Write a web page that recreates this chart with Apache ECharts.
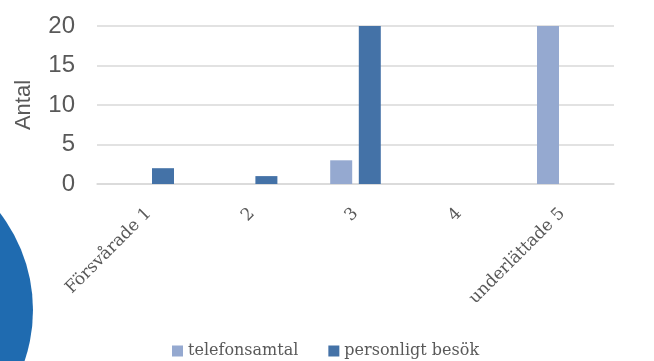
<!DOCTYPE html>
<html>
<head>
<meta charset="utf-8">
<style type="text/css">
html, body{margin: 0; padding: 0; background: #fff}
#chart{width: 654px; height: 361px}
</style>
<script src="https://cdn.jsdelivr.net/npm/echarts@6/dist/echarts.min.js"></script>
</head>
<body>
<div id="chart"></div>
<script type="text/javascript">
var categories = ['Försvårade 1', '2', '3', '4', 'underlättade 5'];
var telefonsamtal = [0, 0, 3, 0, 20];
var personligtBesok = [2, 1, 20, 0, 0];
var yTicks = [0, 5, 10, 15, 20];

var chart = echarts.init(document.getElementById('chart'));

var option = {
    animation: false,
    graphic: [
        {
            type: 'circle',
            z: 0,
            shape: {cx: -126, cy: 310, r: 159},
            style: {fill: '#1f6bb0'}
        }
    ],
    grid: {
        left: 97,
        right: 40,
        top: 26,
        bottom: 177
    },
    legend: {
        top: 338,
        left: 167,
        itemWidth: 11,
        itemHeight: 11,
        itemGap: 30,
        icon: 'rect',
        textStyle: {fontFamily: 'DejaVu Serif', fontSize: 16, color: '#595959'},
        data: ['telefonsamtal', 'personligt besök']
    },
    xAxis: {
        type: 'category',
        data: categories,
        axisLine: {lineStyle: {color: '#d9d9d9', width: 1.5}},
        axisTick: {show: false},
        axisLabel: {
            rotate: 45,
            margin: 27,
            interval: 0,
            fontFamily: 'DejaVu Serif',
            fontSize: 17,
            color: '#595959'
        }
    },
    yAxis: {
        type: 'value',
        min: yTicks[0],
        max: yTicks[yTicks.length - 1],
        interval: 5,
        name: 'Antal',
        nameLocation: 'middle',
        nameGap: 62,
        nameRotate: 90,
        nameTextStyle: {fontFamily: 'Liberation Sans', fontSize: 22, color: '#595959'},
        axisLine: {show: false},
        axisTick: {show: false},
        axisLabel: {fontFamily: 'Liberation Sans', fontSize: 24, color: '#595959', margin: 22},
        splitLine: {lineStyle: {color: '#d9d9d9', width: 1.5}}
    },
    series: [
        {
            name: 'telefonsamtal',
            type: 'bar',
            data: telefonsamtal,
            barWidth: 22,
            barGap: '30%',
            itemStyle: {color: '#95a9d0'}
        },
        {
            name: 'personligt besök',
            type: 'bar',
            data: personligtBesok,
            barWidth: 22,
            itemStyle: {color: '#4472a7'}
        }
    ]
};
chart.setOption(option, true);
</script>
</body>
</html>
